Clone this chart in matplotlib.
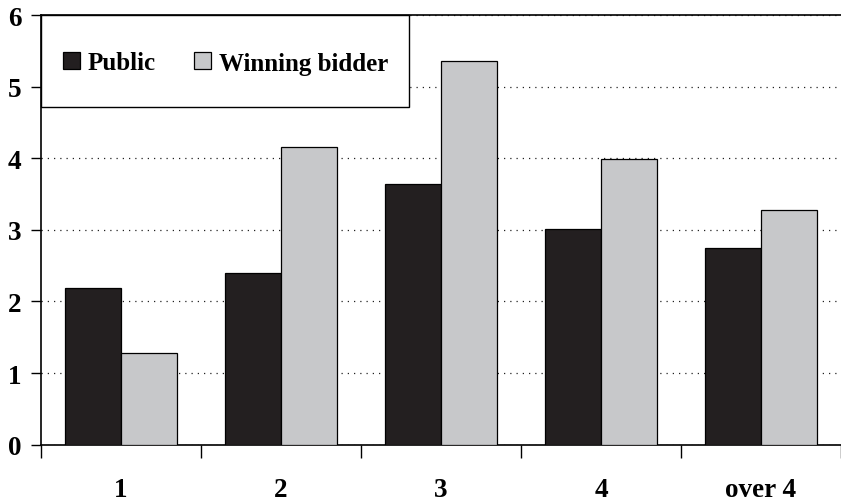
import matplotlib
matplotlib.use("Agg")
import matplotlib.pyplot as plt
import numpy as np
from matplotlib.patches import Rectangle

categories = ["1", "2", "3", "4", "over 4"]
public = [2.19, 2.40, 3.64, 3.01, 2.74]
winning_bidder = [1.28, 4.16, 5.36, 3.99, 3.28]
series_names = ["Public", "Winning bidder"]
y_ticks = [0, 1, 2, 3, 4, 5, 6]

plt.rcParams["font.family"] = ["Liberation Serif", "DejaVu Serif"]
plt.rcParams["font.weight"] = "bold"

fig = plt.figure(figsize=(8.41, 5.02), dpi=100)
ax = fig.add_axes([41 / 841, 1 - 445.7 / 502, 800 / 841, (445.7 - 16) / 502])

centers = np.arange(len(categories)) + 0.5
w = 0.35
ax.bar(centers - w / 2, public, width=w, color="#231f20", edgecolor="black",
       linewidth=0.9, zorder=3, label=series_names[0])
ax.bar(centers + w / 2, winning_bidder, width=w, color="#c7c8ca", edgecolor="black",
       linewidth=0.9, zorder=3, label=series_names[1])

ax.set_xlim(0, len(categories))
ax.set_ylim(0, 6)

# category labels at group centers, tick marks at group boundaries
ax.set_xticks(centers)
ax.set_xticklabels(categories, fontsize=19.5, fontweight="bold")
ax.tick_params(axis="x", which="major", length=0, pad=23)
ax.set_xticks(np.arange(len(categories) + 1), minor=True)
ax.tick_params(axis="x", which="minor", length=9, width=1.0, direction="out")

ax.set_yticks(y_ticks)
ax.set_yticklabels([str(t) for t in y_ticks], fontsize=19.5, fontweight="bold")
ax.tick_params(axis="y", length=7, width=1.0, direction="out", pad=7)

ax.yaxis.grid(True, linestyle=(0, (1, 4)), linewidth=0.9, color="#222222", zorder=0)
ax.set_axisbelow(True)

for s in ["left", "bottom", "top"]:
    ax.spines[s].set_linewidth(1.2)
    ax.spines[s].set_color("black")
ax.spines["right"].set_visible(False)

# legend box
ax.add_patch(Rectangle((0, 1 - 92 / 429.7), 368 / 800, 92 / 429.7, transform=ax.transAxes,
                       facecolor="white", edgecolor="black", linewidth=1.0, zorder=4,
                       clip_on=False))
leg = ax.legend(loc="center left", bbox_to_anchor=(22 / 800, 1 - 48 / 429.7), ncol=2,
                frameon=False, prop={"size": 18, "weight": "bold"},
                handlelength=0.68, handleheight=0.68, handletextpad=0.3,
                columnspacing=1.55, borderpad=0, borderaxespad=0)
leg.set_zorder(5)

fig.savefig("out.png", dpi=100)
